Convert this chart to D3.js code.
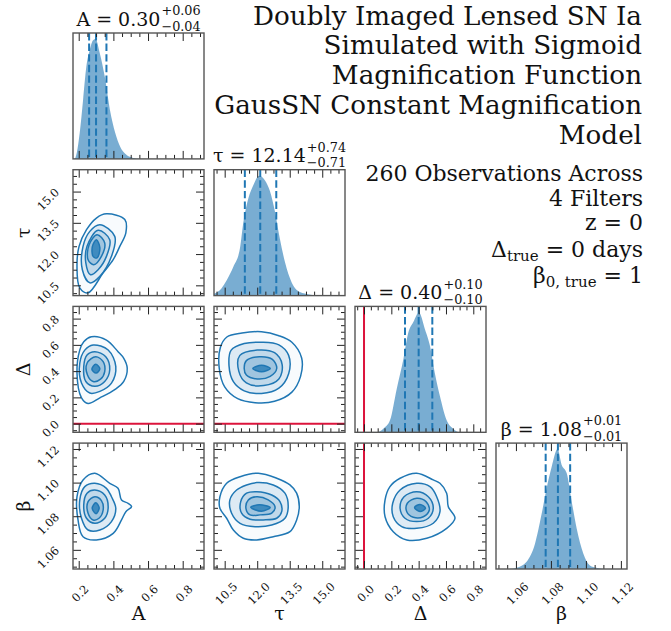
<!DOCTYPE html>
<html><head><meta charset="utf-8">
<script src="https://cdn.jsdelivr.net/npm/d3@7"></script>
<style>body{margin:0;background:#fff} text{font-family:"DejaVu Serif",serif;fill:#111}</style>
</head><body><svg id="c" width="671" height="631"></svg>
<script>
// ---------------- data ----------------
const params = ["A", "τ", "Δ", "β"];
const ranges = [[0.167, 0.923], [10.007, 16.05], [-0.066, 0.893], [1.0486, 1.1235]];
const majorTicks = [[0.2, 0.4, 0.6, 0.8], [10.5, 12.0, 13.5, 15.0], [0.0, 0.2, 0.4, 0.6, 0.8], [1.06, 1.08, 1.10, 1.12]];
const tickLabels = [["0.2", "0.4", "0.6", "0.8"], ["10.5", "12.0", "13.5", "15.0"], ["0.0", "0.2", "0.4", "0.6", "0.8"], ["1.06", "1.08", "1.10", "1.12"]];
const minorStep = [0.05, 0.375, 0.05, 0.005];
const truths = [null, null, 0, null];
const quantiles = [[0.26, 0.30, 0.36], [11.43, 12.14, 12.88], [0.30, 0.40, 0.50], [1.077, 1.084, 1.091]];
const titleMain = ["A = 0.30", "τ = 12.14", "Δ = 0.40", "β = 1.08"];
const titleUp = ["+0.06", "+0.74", "+0.10", "+0.01"];
const titleDown = ["−0.04", "−0.71", "−0.10", "−0.01"];

const histA = [[0.167,0],[0.176,0],[0.19,0.06],[0.206,0.22],[0.225,0.49],[0.244,0.77],[0.264,0.91],[0.283,0.99],[0.297,1.0],[0.322,0.88],[0.351,0.68],[0.38,0.41],[0.41,0.22],[0.44,0.10],[0.47,0.04],[0.51,0.01],[0.56,0],[0.923,0]];
const histTau = [[10.007,0.015],[10.35,0.06],[10.6,0.13],[10.9,0.24],[11.2,0.39],[11.36,0.61],[11.59,0.81],[11.82,0.92],[12.09,1.0],[12.36,0.96],[12.59,0.87],[12.82,0.70],[13.05,0.47],[13.28,0.28],[13.59,0.11],[13.97,0.03],[14.4,0.01],[15.0,0],[16.05,0]];
const histDelta = [[-0.066,0],[0.093,0],[0.141,0.03],[0.19,0.10],[0.239,0.36],[0.288,0.61],[0.324,0.83],[0.361,0.92],[0.402,1.0],[0.446,0.86],[0.483,0.72],[0.519,0.49],[0.556,0.30],[0.605,0.10],[0.653,0.03],[0.70,0],[0.893,0]];
const histBeta = [[1.0486,0],[1.056,0],[1.0604,0.01],[1.0661,0.06],[1.0709,0.21],[1.0747,0.46],[1.0775,0.67],[1.0804,0.85],[1.0838,1.0],[1.0861,0.87],[1.089,0.80],[1.0918,0.57],[1.0947,0.34],[1.0985,0.13],[1.1023,0.03],[1.106,0.01],[1.11,0],[1.1235,0]];

const contoursATau = [
 [[0.360,13.93],[0.466,13.66],[0.472,13.02],[0.437,12.37],[0.399,11.73],[0.341,11.10],[0.254,10.14],[0.206,10.38],[0.190,11.41],[0.202,12.37],[0.245,13.17],[0.302,13.73]],
 [[0.322,13.41],[0.408,12.85],[0.389,11.89],[0.322,10.93],[0.264,10.62],[0.221,11.25],[0.225,12.37],[0.264,13.09]],
 [[0.312,13.14],[0.379,12.69],[0.360,11.89],[0.312,11.25],[0.268,11.01],[0.241,11.58],[0.248,12.37]],
 [[0.306,12.93],[0.350,12.53],[0.331,11.89],[0.287,11.49],[0.254,11.73],[0.260,12.45]],
 [[0.302,12.69],[0.322,12.30],[0.306,11.82],[0.283,11.89],[0.279,12.37]]
];
const contoursADelta = [
 [[0.273,0.661],[0.360,0.636],[0.427,0.548],[0.460,0.498],[0.480,0.423],[0.460,0.322],[0.408,0.259],[0.322,0.196],[0.254,0.153],[0.216,0.196],[0.190,0.385],[0.206,0.560],[0.229,0.623]],
 [[0.283,0.599],[0.370,0.561],[0.414,0.435],[0.389,0.309],[0.322,0.246],[0.264,0.233],[0.216,0.309],[0.206,0.460],[0.235,0.560]],
 [[0.293,0.548],[0.356,0.510],[0.379,0.410],[0.350,0.321],[0.293,0.284],[0.241,0.321],[0.229,0.435],[0.248,0.523]],
 [[0.298,0.510],[0.341,0.472],[0.350,0.397],[0.326,0.339],[0.283,0.321],[0.250,0.372],[0.248,0.460]],
 [[0.298,0.452],[0.322,0.418],[0.300,0.385],[0.276,0.415]]
];
const contoursABeta = [
 [[0.293,1.1056],[0.379,1.0996],[0.427,1.0966],[0.447,1.0897],[0.485,1.0877],[0.505,1.0857],[0.472,1.0827],[0.447,1.0778],[0.399,1.0698],[0.302,1.0659],[0.225,1.0678],[0.196,1.0778],[0.190,1.0916],[0.225,1.1016]],
 [[0.293,1.0996],[0.360,1.0966],[0.389,1.0916],[0.414,1.0847],[0.389,1.0768],[0.322,1.0718],[0.254,1.0718],[0.216,1.0788],[0.206,1.0897],[0.235,1.0976]],
 [[0.293,1.0956],[0.350,1.0926],[0.370,1.0857],[0.350,1.0788],[0.293,1.0758],[0.245,1.0788],[0.229,1.0867],[0.248,1.0937]],
 [[0.293,1.0916],[0.331,1.0893],[0.341,1.0837],[0.317,1.0788],[0.283,1.0778],[0.254,1.0818],[0.254,1.0887]],
 [[0.298,1.0880],[0.318,1.0850],[0.300,1.0815],[0.278,1.0848]]
];
const contoursTauDelta = [
 [[10.30,0.58],[10.6,0.66],[11.3,0.69],[12.2,0.70],[13.0,0.67],[13.6,0.62],[14.05,0.50],[14.0,0.36],[13.6,0.24],[12.8,0.17],[11.9,0.16],[11.1,0.19],[10.5,0.28],[10.25,0.42]],
 [[10.8,0.56],[11.4,0.61],[12.2,0.62],[13.0,0.60],[13.45,0.52],[13.45,0.38],[13.0,0.27],[12.2,0.23],[11.4,0.25],[10.9,0.32],[10.7,0.44]],
 [[11.2,0.52],[12.0,0.56],[12.8,0.54],[13.15,0.45],[13.0,0.34],[12.3,0.29],[11.5,0.31],[11.15,0.40]],
 [[11.5,0.48],[12.1,0.51],[12.7,0.49],[12.9,0.42],[12.6,0.36],[12.0,0.34],[11.5,0.37],[11.4,0.42]],
 [[11.8,0.42],[12.2,0.445],[12.6,0.42],[12.2,0.395]]
];
const contoursTauBeta = [
 [[12.05,1.1056],[12.90,1.1026],[13.51,1.0986],[13.82,1.0937],[13.94,1.0857],[13.82,1.0778],[13.51,1.0708],[12.74,1.0678],[11.98,1.0659],[11.36,1.0669],[10.90,1.0718],[10.59,1.0788],[10.28,1.0847],[10.28,1.0916],[10.59,1.0996],[11.21,1.1035]],
 [[11.98,1.1000],[12.74,1.0986],[13.28,1.0937],[13.43,1.0857],[13.28,1.0788],[12.67,1.0748],[11.90,1.0738],[11.21,1.0758],[10.82,1.0818],[10.74,1.0897],[11.05,1.0956],[11.51,1.0986]],
 [[11.98,1.0946],[12.67,1.0926],[13.05,1.0887],[13.13,1.0827],[12.90,1.0788],[12.28,1.0778],[11.67,1.0782],[11.28,1.0818],[11.24,1.0887],[11.51,1.0937]],
 [[11.98,1.0916],[12.51,1.0897],[12.82,1.0857],[12.67,1.0818],[12.13,1.0808],[11.67,1.0808],[11.48,1.0847],[11.59,1.0897]],
 [[11.7,1.0853],[12.1,1.0868],[12.6,1.0852],[12.2,1.0830]]
];
const contoursDeltaBeta = [
 [[0.386,1.1056],[0.507,1.1016],[0.556,1.0996],[0.605,1.0937],[0.617,1.0857],[0.666,1.0788],[0.605,1.0728],[0.459,1.0669],[0.313,1.0659],[0.214,1.0708],[0.154,1.0797],[0.154,1.0897],[0.190,1.0976],[0.264,1.1026]],
 [[0.386,1.0996],[0.483,1.0976],[0.532,1.0916],[0.556,1.0827],[0.507,1.0758],[0.386,1.0728],[0.276,1.0738],[0.214,1.0797],[0.210,1.0877],[0.264,1.0956]],
 [[0.386,1.0946],[0.471,1.0916],[0.507,1.0847],[0.471,1.0788],[0.386,1.0768],[0.300,1.0788],[0.264,1.0847],[0.293,1.0916]],
 [[0.386,1.0907],[0.454,1.0887],[0.478,1.0837],[0.434,1.0797],[0.361,1.0794],[0.313,1.0827],[0.317,1.0877]],
 [[0.37,1.0852],[0.41,1.0870],[0.45,1.0848],[0.41,1.0828]]
];

const titleLines = ["Doubly Imaged Lensed SN Ia", "Simulated with Sigmoid", "Magnification Function", "GausSN Constant Magnification", "Model"];
const infoLines = [
  [["260 Observations Across", 0]],
  [["4 Filters", 0]],
  [["z = 0", 0]],
  [["Δ", 0], ["true", 1], [" = 0 days", 0]],
  [["β", 0], ["0, true", 1], [" = 1", 0]]
];

// ---------------- layout ----------------
const C0 = "#1f77b4";
const svg = d3.select("#c");
const colBand = d3.scaleBand().domain(d3.range(4)).range([73, 627]).paddingInner(0.0709).paddingOuter(0);
const rowBand = d3.scaleBand().domain(d3.range(4)).range([33, 569]).paddingInner(0.079).paddingOuter(0);
const W = colBand.bandwidth(), H = rowBand.bandwidth();
const xs = (p, col) => d3.scaleLinear().domain(ranges[p]).range([colBand(col), colBand(col) + W]);
const ys = (p, row) => d3.scaleLinear().domain(ranges[p]).range([rowBand(row) + H, rowBand(row)]);
const minors = p => d3.range(Math.ceil(ranges[p][0] / minorStep[p]) * minorStep[p], ranges[p][1], minorStep[p])
    .filter(v => !majorTicks[p].some(m => Math.abs(m - v) < minorStep[p] * 0.1));

const pairs = [
  {r: 1, c: 0, rings: contoursATau},
  {r: 2, c: 0, rings: contoursADelta},
  {r: 3, c: 0, rings: contoursABeta},
  {r: 2, c: 1, rings: contoursTauDelta},
  {r: 3, c: 1, rings: contoursTauBeta},
  {r: 3, c: 2, rings: contoursDeltaBeta}
];
const hists = [histA, histTau, histDelta, histBeta];

const defs = svg.append("defs");
function clipFor(r, c) {
  const id = `clip${r}${c}`;
  defs.append("clipPath").attr("id", id).append("rect")
    .attr("x", colBand(c)).attr("y", rowBand(r)).attr("width", W).attr("height", H);
  return `url(#${id})`;
}

function drawTicks(g, x, y, p, q, showY) {
  const top = y.range()[1], bot = y.range()[0], left = x.range()[0], right = x.range()[1];
  const fx = [[d3.axisBottom, bot], [d3.axisTop, top]];
  fx.forEach(([ax, pos]) => {
    g.append("g").attr("transform", `translate(0,${pos})`)
      .call(ax(x).tickValues(majorTicks[p]).tickSize(-8).tickFormat(""))
      .call(s => s.select(".domain").remove());
    g.append("g").attr("transform", `translate(0,${pos})`)
      .call(ax(x).tickValues(minors(p)).tickSize(-4).tickFormat(""))
      .call(s => s.select(".domain").remove());
  });
  if (showY) {
    [[d3.axisLeft, left], [d3.axisRight, right]].forEach(([ax, pos]) => {
      g.append("g").attr("transform", `translate(${pos},0)`)
        .call(ax(y).tickValues(majorTicks[q]).tickSize(-8).tickFormat(""))
        .call(s => s.select(".domain").remove());
      g.append("g").attr("transform", `translate(${pos},0)`)
        .call(ax(y).tickValues(minors(q)).tickSize(-4).tickFormat(""))
        .call(s => s.select(".domain").remove());
    });
  }
  g.selectAll(".tick line").attr("stroke", "#222").attr("stroke-width", 1);
}

function bottomLabels(x, p, bot) {
  svg.append("g").attr("transform", `translate(0,${bot})`)
    .call(d3.axisBottom(x).tickValues(majorTicks[p]).tickSize(0).tickFormat((d, i) => tickLabels[p][i]))
    .call(s => s.select(".domain").remove())
    .selectAll("text")
      .attr("y", 0).attr("dy", null)
      .attr("dominant-baseline", "central")
      .attr("text-anchor", "middle")
      .attr("font-size", 11.5)
      .attr("fill", "#111")
      .attr("transform", "translate(1,24.5) rotate(-45)");
}
function leftLabels(y, q, left) {
  svg.append("g").attr("transform", `translate(${left},0)`)
    .call(d3.axisLeft(y).tickValues(majorTicks[q]).tickSize(0).tickFormat((d, i) => tickLabels[q][i]))
    .call(s => s.select(".domain").remove())
    .selectAll("text")
      .attr("x", 0).attr("dy", null)
      .attr("text-anchor", "end")
      .attr("font-size", 11.5)
      .attr("fill", "#111")
      .attr("transform", "translate(-13,1) rotate(-45)");
}

function frame(r, c) {
  svg.append("rect").attr("x", colBand(c)).attr("y", rowBand(r)).attr("width", W).attr("height", H)
    .attr("fill", "none").attr("stroke", "#555").attr("stroke-width", 1.4);
}

// ---------------- histograms ----------------
hists.forEach((h, p) => {
  const x = xs(p, p);
  const yh = d3.scaleLinear().domain([0, 1.05]).range([rowBand(p) + H, rowBand(p)]);
  const g = svg.append("g");
  const cg = g.append("g").attr("clip-path", clipFor(p, p));
  cg.append("path").datum(h)
    .attr("d", d3.area().x(d => x(d[0])).y0(yh(0)).y1(d => yh(d[1])).curve(d3.curveMonotoneX))
    .attr("fill", C0).attr("fill-opacity", 0.6);
  quantiles[p].forEach(v => {
    cg.append("line").attr("x1", x(v)).attr("x2", x(v)).attr("y1", rowBand(p)).attr("y2", rowBand(p) + H)
      .attr("stroke", C0).attr("stroke-width", 2).attr("stroke-dasharray", "7.4,3.2");
  });
  if (truths[p] !== null) {
    cg.append("line").attr("x1", x(truths[p])).attr("x2", x(truths[p])).attr("y1", rowBand(p)).attr("y2", rowBand(p) + H)
      .attr("stroke", "#dc143c").attr("stroke-width", 2);
  }
  drawTicks(g, x, yh, p, p, false);
  frame(p, p);
  // title
  const tg = svg.append("g");
  const base = rowBand(p) - 7.5;
  const main = tg.append("text").attr("x", 0).attr("y", base).attr("font-size", 19).text(titleMain[p]);
  const w = main.node().getComputedTextLength();
  const up = tg.append("text").attr("x", w + 1).attr("y", base - 10.2).attr("font-size", 12.8).text(titleUp[p]);
  const dn = tg.append("text").attr("x", w + 1).attr("y", base + 5).attr("font-size", 12.8).text(titleDown[p]);
  const total = w + 1 + Math.max(up.node().getComputedTextLength(), dn.node().getComputedTextLength());
  tg.attr("transform", `translate(${colBand(p) + W / 2 - total / 2},0)`);
});

// ---------------- 2D panels ----------------
const ringFill = [0.03, 0.12, 0.15, 0.2, 0.75];
pairs.forEach(({r, c, rings}) => {
  const x = xs(c, c), y = ys(r, r);
  const g = svg.append("g");
  const cg = g.append("g").attr("clip-path", clipFor(r, c));
  const line = d3.line().x(d => x(d[0])).y(d => y(d[1])).curve(d3.curveCatmullRomClosed.alpha(0.5));
  rings.forEach((ring, k) => {
    cg.append("path").attr("d", line(ring))
      .attr("fill", C0).attr("fill-opacity", ringFill[k])
      .attr("stroke", C0).attr("stroke-width", 1.5);
  });
  if (truths[c] !== null) {
    cg.append("line").attr("x1", x(truths[c])).attr("x2", x(truths[c])).attr("y1", rowBand(r)).attr("y2", rowBand(r) + H)
      .attr("stroke", "#dc143c").attr("stroke-width", 2);
  }
  if (truths[r] !== null) {
    cg.append("line").attr("y1", y(truths[r])).attr("y2", y(truths[r])).attr("x1", colBand(c)).attr("x2", colBand(c) + W)
      .attr("stroke", "#dc143c").attr("stroke-width", 2);
  }
  drawTicks(g, x, y, c, r, true);
  frame(r, c);
});

// ---------------- tick labels & axis labels ----------------
for (let c = 0; c < 4; c++) bottomLabels(xs(c, c), c, rowBand(3) + H);
for (let r = 1; r < 4; r++) leftLabels(ys(r, r), r, colBand(0));
for (let c = 0; c < 4; c++) {
  svg.append("text").attr("x", colBand(c) + W / 2).attr("y", 620).attr("text-anchor", "middle")
    .attr("font-size", 19).text(params[c]);
}
for (let r = 1; r < 4; r++) {
  svg.append("text").attr("transform", `translate(30,${rowBand(r) + H / 2}) rotate(-90)`)
    .attr("text-anchor", "middle").attr("font-size", 19).text(params[r]);
}

// ---------------- text blocks ----------------
titleLines.forEach((t, i) => {
  svg.append("text").attr("x", 642).attr("y", 24.5 + i * 29.8).attr("text-anchor", "end")
    .attr("font-size", 26.2).text(t);
});
const infoBase = [181, 205.5, 230, 257, 283];
infoLines.forEach((parts, i) => {
  const t = svg.append("text").attr("x", 643).attr("y", infoBase[i]).attr("text-anchor", "end").attr("font-size", 22);
  let shifted = false;
  parts.forEach(([s, sub]) => {
    const ts = t.append("tspan").text(s);
    if (sub && !shifted) { ts.attr("dy", 4).attr("font-size", 15); shifted = true; }
    else if (!sub && shifted) { ts.attr("dy", -4); shifted = false; }
  });
});
</script></body></html>
